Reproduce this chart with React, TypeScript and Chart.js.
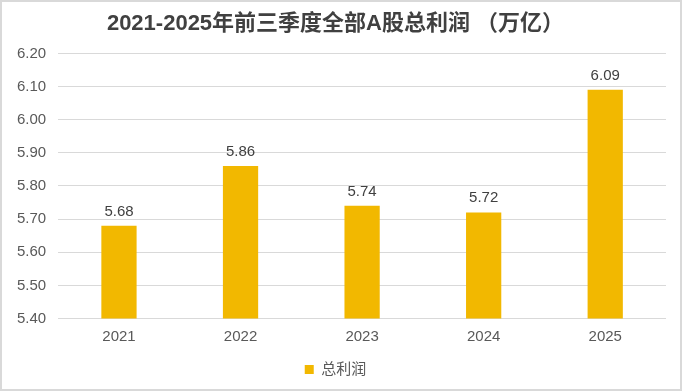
import React, { useEffect, useRef } from "react";
import { Chart, registerables } from "chart.js";

Chart.register(...registerables);

const categories = ["2021", "2022", "2023", "2024", "2025"];
const profitValues = [5.68, 5.86, 5.74, 5.72, 6.09];
const seriesName = "总利润";
const chartTitle = "2021-2025年前三季度全部A股总利润 （万亿）";
const yMin = 5.4;
const yMax = 6.2;
const yStep = 0.1;

const FONT = "'Liberation Sans', Arial, 'Noto Sans CJK SC', sans-serif";

const framePlugin = {
  id: "frame",
  beforeDraw(chart: any) {
    const { ctx, width, height } = chart;
    ctx.save();
    ctx.fillStyle = "#ffffff";
    ctx.fillRect(0, 0, width, height);
    ctx.strokeStyle = "#d9d9d9";
    ctx.lineWidth = 2;
    ctx.strokeRect(1, 1, width - 2, height - 2);
    ctx.restore();
  },
};

const labelPlugin = {
  id: "barLabels",
  afterDatasetsDraw(chart: any) {
    const { ctx } = chart;
    const meta = chart.getDatasetMeta(0);
    const data = chart.data.datasets[0].data as number[];
    ctx.save();
    ctx.font = `15px ${FONT}`;
    ctx.fillStyle = "#404040";
    ctx.textAlign = "center";
    ctx.textBaseline = "alphabetic";
    meta.data.forEach((bar: any, i: number) => {
      ctx.fillText(Number(data[i]).toFixed(2), bar.x, bar.y - 10);
    });
    ctx.restore();
  },
};

export default function App() {
  const ref = useRef<HTMLCanvasElement>(null);
  useEffect(() => {
    if (!ref.current) return;
    const chart = new Chart(ref.current, {
      type: "bar",
      data: {
        labels: categories,
        datasets: [
          {
            label: seriesName,
            data: profitValues,
            backgroundColor: "#F2B800",
            borderWidth: 0,
            categoryPercentage: 1,
            barPercentage: 0.29,
          },
        ],
      },
      options: {
        animation: false,
        responsive: false,
        maintainAspectRatio: false,
        devicePixelRatio: 1,
        layout: { padding: { left: 5, right: 16, top: 11, bottom: 4 } },
        plugins: {
          title: {
            display: true,
            text: chartTitle,
            color: "#404040",
            font: { family: FONT, size: 22, weight: "bold", lineHeight: 1.2 },
            padding: { top: 0, bottom: 16 },
          },
          legend: {
            display: true,
            position: "bottom",
            labels: {
              boxWidth: 9,
              boxHeight: 9,
              padding: 7.5,
              color: "#595959",
              font: { family: FONT, size: 15 },
            },
          },
          tooltip: { enabled: false },
        },
        scales: {
          x: {
            grid: { display: false, drawTicks: false },
            border: { display: false },
            ticks: {
              color: "#595959",
              font: { family: FONT, size: 15 },
              padding: 9,
            },
          },
          y: {
            min: yMin,
            max: yMax,
            grid: { color: "#d9d9d9", drawTicks: false, lineWidth: 1 },
            border: { display: false },
            ticks: {
              stepSize: yStep,
              color: "#595959",
              font: { family: FONT, size: 15 },
              padding: 12,
              callback: (v: any) => Number(v).toFixed(2),
            },
          },
        },
      },
      plugins: [framePlugin, labelPlugin],
    });
    return () => chart.destroy();
  }, []);
  return (
    <div style={{ position: "absolute", left: 0, top: 0, width: 682, height: 391 }}>
      <canvas ref={ref} width={682} height={391} style={{ width: 682, height: 391, display: "block" }} />
    </div>
  );
}
